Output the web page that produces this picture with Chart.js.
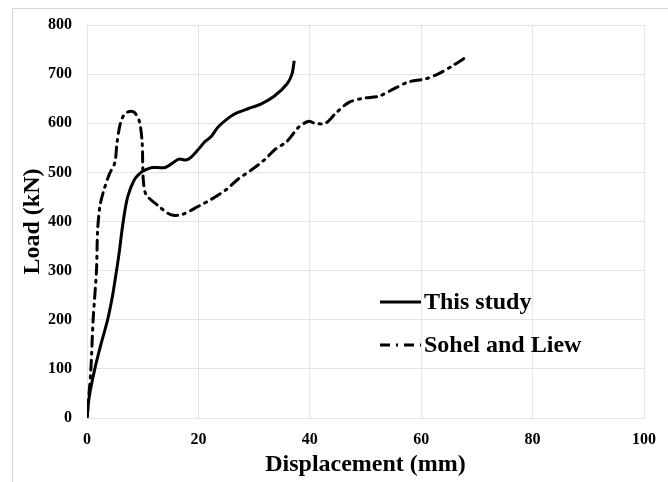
<!DOCTYPE html>
<html>
<head>
<meta charset="utf-8">
<script src="https://cdn.jsdelivr.net/npm/chart.js@4"></script>
<style>
  body { margin: 0; background: #fff; }
  canvas { display: block; }
</style>
</head>
<body>
<canvas id="loadChart" width="668" height="482"></canvas>
<script>
// valores (deslocamento em mm, carga em kN)
var studyX = [0, 0.4, 1.4, 2.5, 3.7, 4.6, 5.3, 5.7, 6.5, 7.3, 8.5, 9.7, 10.5, 11.7, 14, 16.5, 17.7, 18.6, 20, 21.2, 22.3, 23.5, 25.8, 27.1, 29, 31.2, 33.6, 35.9, 36.8, 37.2];
var studyY = [0, 43, 100, 150, 200, 250, 300, 330, 400, 450, 485, 500, 505, 510, 510, 527, 525, 530, 547, 563, 573, 592, 614, 622, 630, 639, 655, 680, 700, 727];

var sohelX = [0, 0.3, 0.7, 1.1, 1.7, 1.9, 2.3, 2.9, 4.0, 5.0, 5.4, 6.0, 6.7, 7.6, 8.5, 9.4, 9.9, 10.0, 10.1, 10.6, 12.9, 15, 17, 20, 22.3, 25, 27.1, 29.4, 31.8, 33.8, 35.9, 38, 39.8, 40.9, 42.8, 44.8, 47.1, 49.7, 52.4, 54.9, 57.7, 60.7, 63, 65.5, 68.1];
var sohelY = [0, 40, 100, 200, 300, 380, 430, 459, 496, 520, 561, 600, 618, 624, 622, 604, 561, 520, 486, 455, 431, 414, 414, 431, 445, 465, 486, 504, 525, 547, 563, 592, 604, 600, 600, 622, 643, 651, 655, 669, 684, 690, 700, 716, 735];

var seriesNames = ['This study', 'Sohel and Liew'];
var xTicks = [0, 20, 40, 60, 80, 100];
var yTicks = [0, 100, 200, 300, 400, 500, 600, 700, 800];

var serif = '"Liberation Serif", "Times New Roman", serif';
var gridColor = '#e4e4e4';
var dashDot = [10, 6, 2, 6];

function pontos(xs, ys) {
    return xs.map(function(x, i) { return { x: x, y: ys[i] }; });
}

// moldura externa cinza (só topo e esquerda aparecem)
var framePlugin = {
    id: 'frame',
    beforeDraw: function(chart) {
        var ctx = chart.ctx;
        ctx.save();
        ctx.strokeStyle = '#d6d6d6';
        ctx.lineWidth = 1;
        ctx.beginPath();
        ctx.moveTo(12.5, 490);
        ctx.lineTo(12.5, 8.5);
        ctx.lineTo(680, 8.5);
        ctx.stroke();
        ctx.restore();
    }
};

// legenda dentro da área do gráfico
var legendPlugin = {
    id: 'innerLegend',
    afterDraw: function(chart) {
        var ctx = chart.ctx;
        ctx.save();
        chart.data.datasets.forEach(function(ds, i) {
            var y = 302 + i * 43;
            ctx.strokeStyle = ds.borderColor;
            ctx.lineWidth = ds.borderWidth;
            ctx.lineCap = 'butt';
            ctx.setLineDash(ds.borderDash || []);
            ctx.beginPath();
            ctx.moveTo(380, y);
            ctx.lineTo(421, y);
            ctx.stroke();
            ctx.setLineDash([]);
            ctx.fillStyle = '#000';
            ctx.font = 'bold 24px ' + serif;
            ctx.textAlign = 'left';
            ctx.textBaseline = 'middle';
            ctx.fillText(ds.label, 424, y + 1);
        });
        ctx.restore();
    }
};

new Chart(document.getElementById('loadChart'), {
    type: 'line',
    data: {
        datasets: [
            {
                label: seriesNames[0],
                data: pontos(studyX, studyY),
                borderColor: '#000',
                borderWidth: 3,
                pointRadius: 0,
                tension: 0.3,
                fill: false
            },
            {
                label: seriesNames[1],
                data: pontos(sohelX, sohelY),
                borderColor: '#000',
                borderWidth: 3,
                borderDash: dashDot,
                borderCapStyle: 'round',
                pointRadius: 0,
                tension: 0.3,
                fill: false
            }
        ]
    },
    options: {
        responsive: false,
        animation: false,
        devicePixelRatio: 1,
        layout: { padding: { top: 25, right: 16, left: 0, bottom: 0 } },
        plugins: {
            legend: { display: false },
            tooltip: { enabled: false }
        },
        scales: {
            x: {
                type: 'linear',
                min: 0,
                max: 100,
                afterFit: function(scale) { scale.height = 64; },
                afterBuildTicks: function(scale) {
                    scale.ticks = xTicks.map(function(v) { return { value: v }; });
                },
                grid: { color: gridColor, drawTicks: false },
                border: { color: gridColor },
                ticks: {
                    padding: 12,
                    color: '#000',
                    font: { family: serif, size: 16, weight: 'bold' }
                },
                title: {
                    display: true,
                    text: 'Displacement (mm)',
                    color: '#000',
                    padding: { top: 0, bottom: 3 },
                    font: { family: serif, size: 24, weight: 'bold' }
                }
            },
            y: {
                min: 0,
                max: 800,
                afterFit: function(scale) { scale.width = 87; },
                afterBuildTicks: function(scale) {
                    scale.ticks = yTicks.map(function(v) { return { value: v }; });
                },
                grid: { color: gridColor, drawTicks: false },
                border: { color: gridColor },
                ticks: {
                    padding: 15,
                    color: '#000',
                    font: { family: serif, size: 16, weight: 'bold' }
                },
                title: {
                    display: true,
                    text: 'Load (kN)',
                    color: '#000',
                    padding: { top: 18, bottom: 0 },
                    font: { family: serif, size: 24, weight: 'bold' }
                }
            }
        }
    },
    plugins: [framePlugin, legendPlugin]
});
</script>
</body>
</html>
